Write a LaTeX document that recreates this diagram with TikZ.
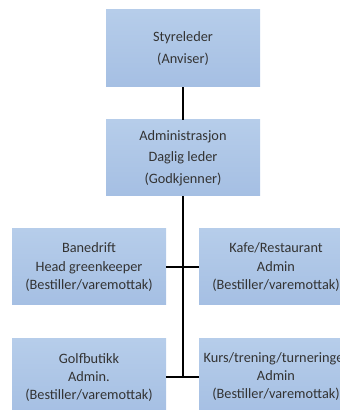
\documentclass[tikz,border=0pt]{standalone}
\usepackage{fontspec}
\setmainfont{Carlito}
\definecolor{boxtop}{HTML}{B6CDEA}
\definecolor{boxbot}{HTML}{A5BFE3}
\definecolor{txt}{HTML}{333333}
\begin{document}
\begin{tikzpicture}[x=1pt,y=1pt,
  orgbox/.style={rectangle, minimum width=154pt, minimum height=76pt, inner sep=0pt,
    top color=boxtop, bottom color=boxbot, draw=none, align=center,
    text=txt, font=\fontsize{14.3}{20}\selectfont},
  link/.style={draw=black, line width=1.8pt}]
\useasboundingbox (0,0) rectangle (340,410);
\clip (0,0) rectangle (340,410);
\node[orgbox, minimum height=77pt, font=\fontsize{14.3}{22}\selectfont] (sty) at (183,361.5) {Styreleder\\(Anviser)};
\node[orgbox, font=\fontsize{14.3}{21.5}\selectfont] (adm) at (183,252) {Administrasjon\\Daglig leder\\(Godkjenner)};
\node[orgbox, font=\fontsize{14.3}{17.5}\selectfont] (ban) at (89,143) {Banedrift\\[2pt]Head greenkeeper\\(Bestiller/varemottak)};
\node[orgbox, font=\fontsize{14.3}{17.5}\selectfont] (kaf) at (276,143) {Kafe/Restaurant\\[2pt]Admin\\(Bestiller/varemottak)};
\node[orgbox, font=\fontsize{14.3}{18}\selectfont] (gol) at (89,33) {Golfbutikk\\Admin.\\(Bestiller/varemottak)};
\node[orgbox, font=\fontsize{14.3}{18}\selectfont] (kur) at (276,33) {Kurs/trening/turneringer\\Admin\\(Bestiller/varemottak)};
\coordinate (j1) at (183,143);
\coordinate (j2) at (183,33);
\draw[link] (sty.south) -- (adm.north);
\draw[link] (adm.south) -- (j2);
\draw[link] (ban.east) -- (kaf.west);
\draw[link] (gol.east) -- (kur.west);
\end{tikzpicture}
\end{document}
